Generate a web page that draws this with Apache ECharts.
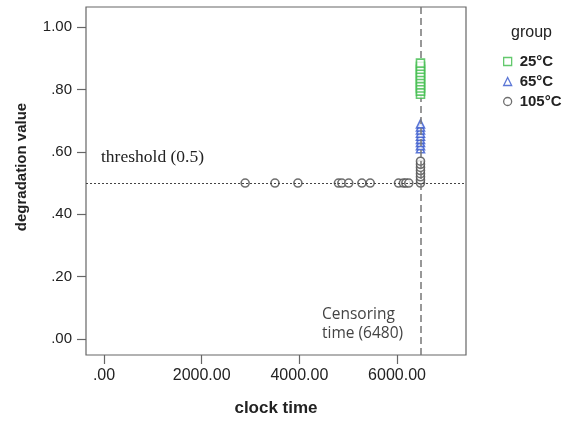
<!DOCTYPE html>
<html><head><meta charset="utf-8">
<script src="https://cdn.jsdelivr.net/npm/echarts@6/dist/echarts.min.js"></script>
<style>html,body{margin:0;padding:0;background:#fff}#c{width:582px;height:424px}</style>
</head><body><div id="c"></div>
<script>
const censorTime = 6480;
const threshold = 0.5;
const xTicks = [0, 2000, 4000, 6000];
const yTicks = [0, 0.2, 0.4, 0.6, 0.8, 1.0];
const groups = ['25°C', '65°C', '105°C'];
// 25°C: all censored at 6480
const g25y = [0.785, 0.795, 0.805, 0.815, 0.825, 0.835, 0.845, 0.855, 0.865, 0.875, 0.885];
// 65°C: all censored at 6480
const g65y = [0.61, 0.62, 0.63, 0.64, 0.65, 0.66, 0.67, 0.68, 0.69];
// 105°C: failures crossing threshold, plus censored units
const g105failX = [2890, 3500, 3970, 4800, 4870, 5010, 5280, 5450, 6030, 6130, 6180, 6240];
const g105censY = [0.50, 0.51, 0.52, 0.53, 0.54, 0.55, 0.56, 0.57];

const d25 = g25y.map(v => [censorTime, v]);
const d65 = g65y.map(v => [censorTime, v]);
const d105 = g105failX.map(x => [x, threshold]).concat(g105censY.map(v => [censorTime, v]));

const colors = ['#3dbb4a', '#3355cc', '#4a4a4a'];
const fmt = v => { let s = v.toFixed(2); return s.startsWith('0') ? s.slice(1) : s; };
const FONT = 'Liberation Sans, Arial';

const chart = echarts.init(document.getElementById('c'));
chart.setOption({
  animation: false,
  backgroundColor: '#fff',
  grid: {left: 86, right: 116, top: 7, bottom: 69, show: true, borderColor: '#666', borderWidth: 1.2, backgroundColor: 'transparent'},
  xAxis: {
    type: 'value', min: -369, max: 7412,
    name: 'clock time', nameLocation: 'middle', nameGap: 45,
    nameTextStyle: {fontFamily: FONT, fontWeight: 'bold', fontSize: 17, color: '#222'},
    splitLine: {show: false},
    axisLine: {show: false, onZero: false},
    axisTick: {show: true, length: 9, customValues: xTicks, lineStyle: {color: '#666', width: 1.2}},
    axisLabel: {customValues: xTicks, formatter: fmt, margin: 13, fontFamily: FONT, fontSize: 16, color: '#222'}
  },
  yAxis: {
    type: 'value', min: -0.052, max: 1.065,
    splitLine: {show: false},
    axisLine: {show: false, onZero: false},
    axisTick: {show: true, length: 9, customValues: yTicks, lineStyle: {color: '#666', width: 1.2}},
    axisLabel: {customValues: yTicks, formatter: fmt, margin: 14, fontFamily: FONT, fontSize: 15, color: '#222'}
  },
  legend: {
    orient: 'vertical', left: 503, top: 54, padding: 0, itemWidth: 8, itemHeight: 8, itemGap: 5,
    textStyle: {fontFamily: FONT, fontWeight: 'bold', fontSize: 15, color: '#222', padding: [0, 0, 0, 3]},
    data: [
      {name: groups[0], icon: 'rect', itemStyle: {color: '#fff', borderColor: colors[0], borderWidth: 1.3}},
      {name: groups[1], icon: 'triangle', itemStyle: {color: '#fff', borderColor: colors[1], borderWidth: 1.3}},
      {name: groups[2], icon: 'circle', itemStyle: {color: '#fff', borderColor: colors[2], borderWidth: 1.3}}
    ]
  },
  graphic: [
    {type: 'text', x: 22, y: 167, rotation: Math.PI / 2,
     style: {text: 'degradation value', font: 'bold 15px "Liberation Sans", Arial', fill: '#222', align: 'center', verticalAlign: 'middle'}},
    {type: 'text', left: 511, top: 25, style: {text: 'group', font: '16px "Liberation Sans", Arial', fill: '#222'}},
    {type: 'text', left: 101, top: 148, style: {text: 'threshold (0.5)', font: '17.5px "Liberation Serif", "Times New Roman"', fill: '#222'}},
    {type: 'text', left: 322, top: 305, style: {text: 'Censoring\ntime (6480)', font: '15.5px "Open Sans", "Noto Sans"', fill: '#444', lineHeight: 19}}
  ],
  series: [
    {name: groups[2], type: 'scatter', data: d105, symbol: 'circle', symbolSize: 8,
     itemStyle: {color: '#fff', borderColor: colors[2], borderWidth: 1.6}, z: 3,
     markLine: {silent: true, symbol: 'none', label: {show: false},
       data: [
         {yAxis: threshold, lineStyle: {type: [2, 2], color: '#444', width: 1}},
         {xAxis: censorTime, lineStyle: {type: [7, 4], color: '#777', width: 1.5}}
       ]}},
    {name: groups[1], type: 'scatter', data: d65, symbol: 'triangle', symbolSize: 8,
     itemStyle: {color: '#fff', borderColor: colors[1], borderWidth: 1.6}, z: 4},
    {name: groups[0], type: 'scatter', data: d25, symbol: 'rect', symbolSize: 8,
     itemStyle: {color: '#fff', borderColor: colors[0], borderWidth: 1.6}, z: 5}
  ]
});
</script>
</body></html>
